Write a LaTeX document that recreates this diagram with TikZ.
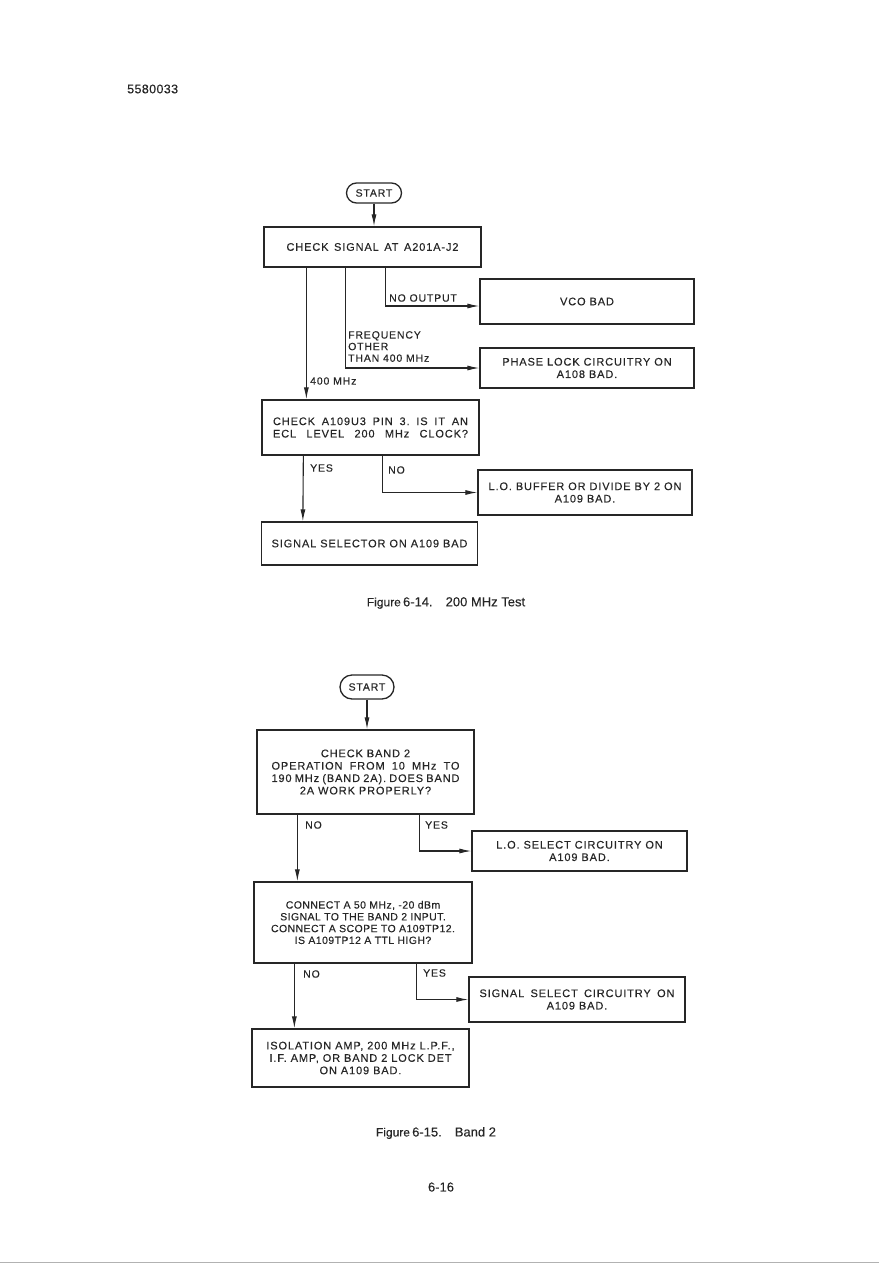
\documentclass[tikz,border=0pt]{standalone}
\usepackage{fontspec}
\setmainfont{Liberation Sans}
\newfontfamily\boxfont[LetterSpace=8,FakeBold=0.3]{Liberation Sans}
\newfontfamily\tightfont[LetterSpace=4,FakeBold=0.3]{Liberation Sans}
\newfontfamily\captfont[FakeBold=0.2]{Liberation Sans}
\usetikzlibrary{arrows.meta,shapes.misc}
\definecolor{ink}{HTML}{262626}
\frenchspacing
\begin{document}
\frenchspacing
\begin{tikzpicture}[x=1pt,y=-1pt,
  box/.style={draw=ink,line width=1.3pt,inner sep=0pt,align=center,text=ink,
    font=\boxfont\fontsize{11}{12.4}\selectfont},
  startbox/.style={draw=ink,line width=1.3pt,rounded rectangle,inner sep=0pt,text=ink,
    font=\boxfont\fontsize{10.5}{12.3}\selectfont},
  lbl/.style={inner sep=0pt,anchor=west,align=left,text=ink,
    font=\boxfont\fontsize{10.5}{11.6}\selectfont},
  captxt/.style={inner sep=0pt,text=ink,font=\captfont\fontsize{13}{15}\selectfont},
  conn/.style={draw=ink,line width=1.1pt},
  arr/.style={conn,-{Latex[length=12pt,width=5pt]}}
]
\useasboundingbox (0,0) rectangle (879,1266);

% page header
\node[captxt,anchor=west,font=\captfont\addfontfeature{LetterSpace=3}\fontsize{12.5}{14}\selectfont] (hdr) at (127,89) {5580033};

% ---------- Figure 6-14 ----------
\node[startbox,minimum width=55pt,minimum height=20pt] (s1) at (374,193) {START};
\node[box,minimum width=217pt,minimum height=40pt] (b1) at (372.5,247) {\makebox[172pt][s]{CHECK SIGNAL AT A201A-J2}};
\node[box,minimum width=214pt,minimum height=45pt] (vco) at (587,301.5) {VCO BAD};
\node[box,minimum width=214pt,minimum height=40pt] (pl) at (587,368) {PHASE LOCK CIRCUITRY ON\\A108 BAD.};
\node[box,minimum width=217pt,minimum height=55pt] (b2) at (370.5,427.5)
  {\makebox[195pt][s]{CHECK A109U3 PIN 3. IS IT AN}\\\makebox[195pt][s]{ECL LEVEL 200 MHz CLOCK?}};
\node[box,minimum width=214pt,minimum height=45pt] (lob) at (585,492.5) {L.O. BUFFER OR DIVIDE BY 2 ON\\A109 BAD.};
\node[box,minimum width=216pt,minimum height=43pt] (b3) at (369.5,543.5) {SIGNAL SELECTOR ON A109 BAD};

\draw[arr] (s1.south) -- (s1.south |- b1.north);
\draw[arr] ([xshift=43pt]b1.south west) -- ([xshift=45pt]b2.north west);
\draw[arr] ([xshift=82pt]b1.south west) |- (pl.west);
\draw[arr] ([xshift=122pt]b1.south west) |- ([yshift=-4.5pt]vco.west);
\draw[arr] ([xshift=42pt]b2.south west) -- ([xshift=42pt]b3.north west);
\draw[arr] ([xshift=121pt]b2.south west) |- (lob.west);

\node[lbl] (lno) at (389,298) {NO OUTPUT};
\node[lbl,anchor=north west] (lfr) at (348,331) {FREQUENCY\\OTHER\\THAN 400 MHz};
\node[lbl] (l400) at (310,381) {400 MHz};
\node[lbl] (ly1) at (310,468) {YES};
\node[lbl] (ln1) at (388,470) {NO};

\node[captxt] (c1) at (446,603) {{\fontsize{12}{14}\selectfont Figure}\,6-14.\quad 200 MHz Test};

% ---------- Figure 6-15 ----------
\node[startbox,minimum width=54pt,minimum height=24pt] (s2) at (367,687) {START};
\node[box,minimum width=217pt,minimum height=84pt] (b4) at (365.5,772)
  {CHECK BAND 2\\\makebox[188pt][s]{OPERATION FROM 10 MHz TO}\\\makebox[188pt][s]{190 MHz (BAND 2A). DOES BAND}\\2A WORK PROPERLY?};
\node[box,minimum width=215pt,minimum height=40pt] (los) at (579.5,851) {L.O. SELECT CIRCUITRY ON\\A109 BAD.};
\node[box,minimum width=218pt,minimum height=81pt,font=\tightfont\fontsize{10.5}{11.8}\selectfont] (b5) at (363,922.5)
  {CONNECT A 50 MHz, -20 dBm\\SIGNAL TO THE BAND 2 INPUT.\\CONNECT A SCOPE TO A109TP12.\\IS A109TP12 A TTL HIGH?};
\node[box,minimum width=216pt,minimum height=45pt] (ss) at (577,999.5)
  {\makebox[195pt][s]{SIGNAL SELECT CIRCUITRY ON}\\A109 BAD.};
\node[box,minimum width=217pt,minimum height=58pt] (b6) at (360.5,1058)
  {ISOLATION AMP, 200 MHz L.P.F.,\\I.F. AMP, OR BAND 2 LOCK DET\\ON A109 BAD.};

\draw[arr] (s2.south) -- (s2.south |- b4.north);
\draw[arr] ([xshift=41pt]b4.south west) -- ([xshift=44pt]b5.north west);
\draw[arr] ([xshift=163pt]b4.south west) |- (los.west);
\draw[arr] ([xshift=41pt]b5.south west) -- ([xshift=43pt]b6.north west);
\draw[arr] ([xshift=163pt]b5.south west) |- (ss.west);

\node[lbl] (ln2) at (305,825) {NO};
\node[lbl] (ly2) at (425,825) {YES};
\node[lbl] (ln3) at (303,974) {NO};
\node[lbl] (ly3) at (423,973) {YES};

\node[captxt] (c2) at (436,1133) {{\fontsize{12}{14}\selectfont Figure}\,6-15.\quad Band 2};
\node[captxt] (pg) at (441,1187) {6-16};

\draw[black!30,line width=0.8pt] (0,1262) -- (879,1262);
\end{tikzpicture}
\end{document}
